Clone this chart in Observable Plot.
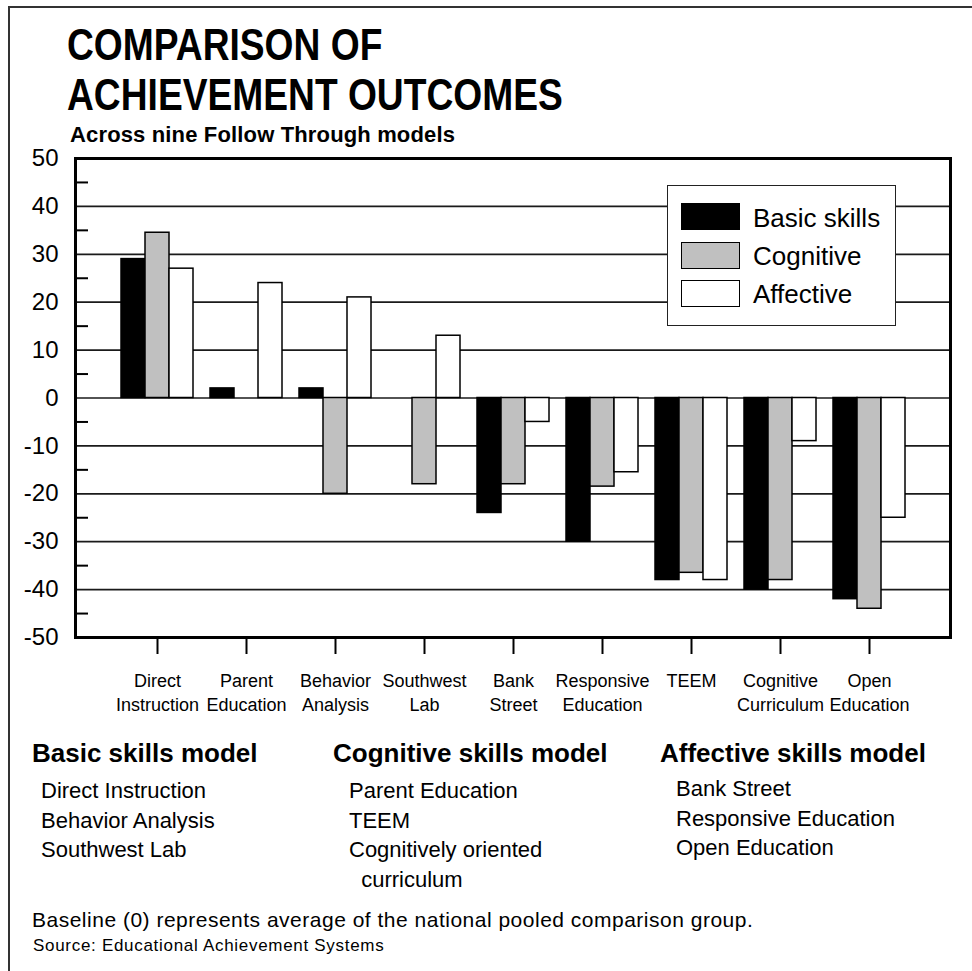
<!DOCTYPE html>
<html><head><meta charset="utf-8">
<script src="https://cdn.jsdelivr.net/npm/d3@7"></script>
<script src="https://cdn.jsdelivr.net/npm/@observablehq/plot@0.6"></script>
<style>
html,body{margin:0;padding:0;background:#fff;overflow:hidden;}
#page{position:relative;width:972px;height:971px;font-family:"Liberation Sans",Arial,sans-serif;color:#000;overflow:hidden;}
.abs{position:absolute;white-space:nowrap;line-height:1;}
#plot{position:absolute;left:0;top:0;}
</style></head><body><div id="page"><div id="plot"></div></div>
<script>
// ---- data ----
const models = ["Direct Instruction","Parent Education","Behavior Analysis","Southwest Lab","Bank Street","Responsive Education","TEEM","Cognitive Curriculum","Open Education"];
const tickLabels = ["Direct\nInstruction","Parent\nEducation","Behavior\nAnalysis","Southwest\nLab","Bank\nStreet","Responsive\nEducation","TEEM","Cognitive\nCurriculum","Open\nEducation"];
const basicSkills = [29, 2, 2, 0, -24, -30, -38, -40, -42];
const cognitiveSkills = [34.5, 0, -20, -18, -18, -18.5, -36.5, -38, -44];
const affectiveSkills = [27, 24, 21, 13, -5, -15.5, -38, -9, -25];
const seriesNames = ["Basic skills","Cognitive","Affective"];
const seriesFills = ["#000000","#c0c0c0","#ffffff"];
const yMajorTicks = [50,40,30,20,10,0,-10,-20,-30,-40,-50];
const yMinorTicks = [45,35,25,15,5,-5,-15,-25,-35,-45];
const gridValues = [40,30,20,10,0,-10,-20,-30,-40];
const titleLines = ["COMPARISON OF","ACHIEVEMENT OUTCOMES"];
const subtitle = "Across nine Follow Through models";
const columnHeadings = ["Basic skills model","Cognitive skills model","Affective skills model"];
const basicModelItems = ["Direct Instruction","Behavior Analysis","Southwest Lab"];
const cognitiveModelItems = ["Parent Education","TEEM","Cognitively oriented","  curriculum"];
const affectiveModelItems = ["Bank Street","Responsive Education","Open Education"];
const note = "Baseline (0) represents average of the national pooled comparison group.";
const source = "Source: Educational Achievement Systems";

const rows = models.map((m, i) => ({model: m, basic: basicSkills[i], cognitive: cognitiveSkills[i], affective: affectiveSkills[i]}));

const page = document.getElementById("page");
const FONT = '"Liberation Sans", Arial, sans-serif';

const chart = Plot.plot({
  width: 972, height: 720,
  marginTop: 158, marginBottom: 83, marginLeft: 75, marginRight: 22,
  style: {fontFamily: FONT, background: "none", color: "black", overflow: "visible"},
  x: {domain: models, paddingInner: 0.195, paddingOuter: 0.486, label: null},
  y: {domain: [-50, 50], label: null},
  marks: [
    Plot.ruleY(gridValues, {stroke: "#1a1a1a", strokeWidth: 1.7}),
    Plot.barY(rows, {x: "model", y: "basic", fill: seriesFills[0], stroke: "black", strokeWidth: 1.5, insetRight: 48}),
    Plot.barY(rows, {x: "model", y: "cognitive", fill: seriesFills[1], stroke: "black", strokeWidth: 1.5, insetLeft: 24, insetRight: 24}),
    Plot.barY(rows, {x: "model", y: "affective", fill: seriesFills[2], stroke: "black", strokeWidth: 1.5, insetLeft: 48}),
    Plot.frame({stroke: "black", strokeWidth: 3}),
    Plot.axisY({ticks: yMinorTicks, tickSize: -13, tickFormat: () => "", strokeWidth: 2}),
    Plot.axisY({ticks: yMajorTicks, tickSize: 0, tickPadding: 17, tickFormat: d => String(d), fontSize: 24}),
    Plot.axisX({tickSize: 17, tickPadding: 16, tickFormat: d => tickLabels[models.indexOf(d)], fontSize: 18, lineHeight: 1.33, strokeWidth: 2})
  ]
});
document.getElementById("plot").appendChild(chart);

function addText(txt, left, baseline, size, opts = {}) {
  const el = document.createElement("div");
  el.className = "abs";
  el.textContent = txt;
  el.style.left = left + "px";
  el.style.top = (baseline - 0.8465 * size) + "px";
  el.style.fontSize = size + "px";
  if (opts.bold) el.style.fontWeight = "bold";
  if (opts.scaleX) { el.style.transform = `scaleX(${opts.scaleX})`; el.style.transformOrigin = "0 0"; }
  if (opts.ls) el.style.letterSpacing = opts.ls + "px";
  if (opts.pre) el.style.whiteSpace = "pre";
  page.appendChild(el);
  return el;
}

// title & subtitle
addText(titleLines[0], 67, 60, 44, {bold: true, scaleX: 0.845});
addText(titleLines[1], 67, 110, 44, {bold: true, scaleX: 0.845});
addText(subtitle, 70, 143, 22, {bold: true, ls: 0.15});

// legend
const legend = document.createElement("div");
legend.style.cssText = "position:absolute;left:667px;top:185px;width:227px;height:139px;border:1.5px solid #222;background:#fff;";
page.appendChild(legend);
seriesNames.forEach((name, i) => {
  const sw = document.createElement("div");
  sw.style.cssText = `position:absolute;left:681px;top:${203 + i * 38.5}px;width:57px;height:25px;border:1.5px solid #000;background:${seriesFills[i]};`;
  page.appendChild(sw);
  addText(name, 753, 227 + i * 38, 26);
});

// bottom columns
addText(columnHeadings[0], 32, 762, 26, {bold: true});
addText(columnHeadings[1], 333, 762, 26, {bold: true});
addText(columnHeadings[2], 660, 762, 26, {bold: true});
basicModelItems.forEach((t, i) => addText(t, 41, 799 + i * 29.5, 22));
cognitiveModelItems.forEach((t, i) => addText(t, 349, 799 + i * 29.5, 22, {pre: true}));
affectiveModelItems.forEach((t, i) => addText(t, 676, 797 + i * 29.5, 22));
addText(note, 32, 927, 21, {ls: 0.5});
addText(source, 33, 951, 17, {ls: 0.7});

// outer border (top and left)
const bt = document.createElement("div");
bt.style.cssText = "position:absolute;left:8px;top:6px;width:964px;height:2px;background:#333;";
page.appendChild(bt);
const bl = document.createElement("div");
bl.style.cssText = "position:absolute;left:8px;top:6px;width:2px;height:965px;background:#333;";
page.appendChild(bl);
</script>
</body></html>
